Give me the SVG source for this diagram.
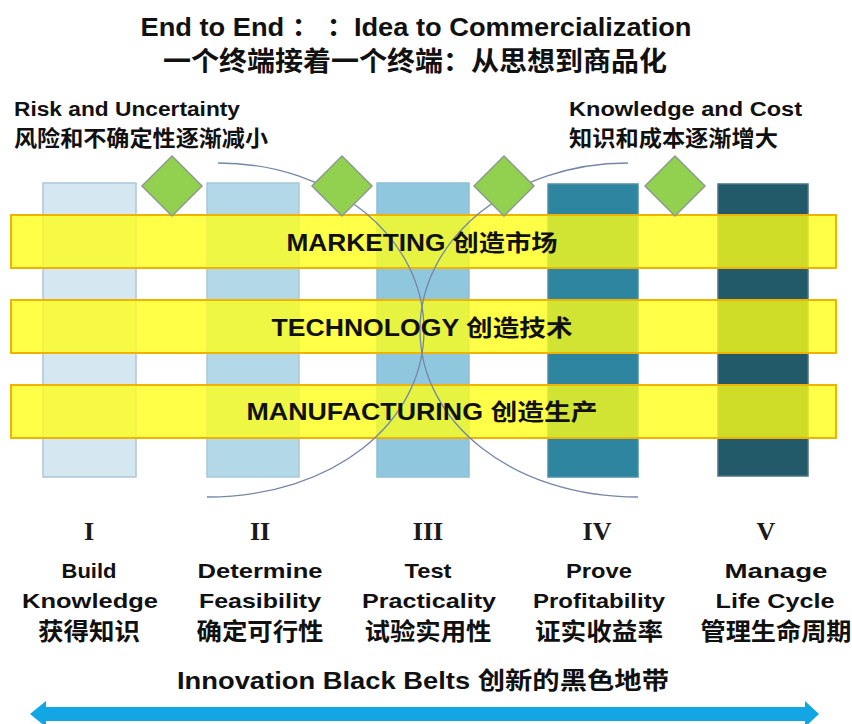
<svg xmlns="http://www.w3.org/2000/svg" width="852" height="724" viewBox="0 0 852 724">
  <style>
    .lat { font-family: "Liberation Sans", "Noto Sans CJK SC", sans-serif; font-weight: bold; fill: #111; }
    .cjk { font-family: "Noto Sans CJK SC", "Liberation Sans", sans-serif; font-weight: bold; fill: #111; }
    .rom { font-family: "Liberation Serif", serif; font-weight: bold; fill: #1a1a1a; font-size: 26px; text-anchor: middle; }
    .mid { text-anchor: middle; }
    .band { fill: #ffff14; fill-opacity: 0.78; stroke: #f0b400; stroke-width: 2; }
    .dia { fill: #92d050; stroke: #8d9b8d; stroke-width: 1.5; }
    .arc { fill: none; stroke: #7587a6; stroke-width: 1.3; }
    .lbl { font-size: 21px; }
    .lblc { font-size: 24px; }
  </style>

  <rect width="852" height="724" fill="#ffffff"/>

  <!-- heading -->
  <g id="title">
    <text class="lat mid" x="416" y="36" font-size="26" textLength="551" lengthAdjust="spacingAndGlyphs">End to End ： ：Idea to Commercialization</text>
    <text class="cjk mid" x="415" y="71" font-size="27" textLength="504" lengthAdjust="spacingAndGlyphs">一个终端接着一个终端：从思想到商品化</text>
  </g>

  <g id="risk-label">
    <text class="lat" x="14" y="116" font-size="20" textLength="226" lengthAdjust="spacingAndGlyphs">Risk and Uncertainty</text>
    <text class="cjk" x="14" y="146" font-size="22" textLength="254" lengthAdjust="spacingAndGlyphs">风险和不确定性逐渐减小</text>
  </g>

  <g id="knowledge-label">
    <text class="lat" x="569" y="116" font-size="20" textLength="233" lengthAdjust="spacingAndGlyphs">Knowledge and Cost</text>
    <text class="cjk" x="569" y="146" font-size="22" textLength="209" lengthAdjust="spacingAndGlyphs">知识和成本逐渐增大</text>
  </g>

  <!-- stage columns -->
  <g id="stage-1">
    <rect x="43" y="183" width="93" height="294" fill="#d5e8f2" stroke="#aec5dc" stroke-width="1.5"/>
  </g>
  <g id="stage-2">
    <rect x="207" y="183" width="92" height="294" fill="#b3d8e8" stroke="#a9c8dc" stroke-width="1.5"/>
  </g>
  <g id="stage-3">
    <rect x="377" y="183" width="92" height="294" fill="#8fc8de" stroke="#8dbfd6" stroke-width="1.5"/>
  </g>
  <g id="stage-4">
    <rect x="548" y="184" width="90" height="293" fill="#2e85a0" stroke="#4d8fa8" stroke-width="1.5"/>
  </g>
  <g id="stage-5">
    <rect x="718" y="184" width="90" height="292" fill="#235a6a" stroke="#4a7484" stroke-width="1.5"/>
  </g>

  <!-- horizontal functions -->
  <g id="marketing">
    <rect class="band" x="11" y="215" width="825" height="53"/>
  </g>
  <g id="technology">
    <rect class="band" x="11" y="300" width="825" height="53"/>
  </g>
  <g id="manufacturing">
    <rect class="band" x="11" y="385" width="825" height="53"/>
  </g>

  <!-- crossing trend curves -->
  <g id="connectors">
    <path class="arc" d="M218,163 C334,163 424,238 424,330 C424,422 334,497 207,497"/>
    <path class="arc" d="M628,163 C512,163 420,238 420,330 C420,422 512,497 638,497"/>
  </g>

  <!-- gates between stages -->
  <g id="gate-1"><polygon class="dia" points="172,156 202,186 172,216 142,186"/></g>
  <g id="gate-2"><polygon class="dia" points="342,156 372,186 342,216 312,186"/></g>
  <g id="gate-3"><polygon class="dia" points="504,156 534,186 504,216 474,186"/></g>
  <g id="gate-4"><polygon class="dia" points="675,156 705,186 675,216 645,186"/></g>

  <!-- band captions -->
  <g id="band-labels">
    <text class="lat mid" x="422" y="251" font-size="23" textLength="271" lengthAdjust="spacingAndGlyphs">MARKETING 创造市场</text>
    <text class="lat mid" x="422" y="336" font-size="23" textLength="301" lengthAdjust="spacingAndGlyphs">TECHNOLOGY 创造技术</text>
    <text class="lat mid" x="422" y="420" font-size="23" textLength="351" lengthAdjust="spacingAndGlyphs">MANUFACTURING 创造生产</text>
  </g>

  <!-- stage captions -->
  <g id="caption-1">
    <text class="rom" x="89" y="540">I</text>
    <text class="lat mid lbl" x="89" y="578" textLength="55" lengthAdjust="spacingAndGlyphs">Build</text>
    <text class="lat mid lbl" x="90" y="608" textLength="136" lengthAdjust="spacingAndGlyphs">Knowledge</text>
    <text class="cjk mid lblc" x="89" y="640" textLength="102" lengthAdjust="spacingAndGlyphs">获得知识</text>
  </g>
  <g id="caption-2">
    <text class="rom" x="260" y="540">II</text>
    <text class="lat mid lbl" x="260" y="578" textLength="125" lengthAdjust="spacingAndGlyphs">Determine</text>
    <text class="lat mid lbl" x="260" y="608" textLength="122" lengthAdjust="spacingAndGlyphs">Feasibility</text>
    <text class="cjk mid lblc" x="260" y="640" textLength="127" lengthAdjust="spacingAndGlyphs">确定可行性</text>
  </g>
  <g id="caption-3">
    <text class="rom" x="428" y="540">III</text>
    <text class="lat mid lbl" x="428" y="578" textLength="47" lengthAdjust="spacingAndGlyphs">Test</text>
    <text class="lat mid lbl" x="429" y="608" textLength="134" lengthAdjust="spacingAndGlyphs">Practicality</text>
    <text class="cjk mid lblc" x="428" y="640" textLength="127" lengthAdjust="spacingAndGlyphs">试验实用性</text>
  </g>
  <g id="caption-4">
    <text class="rom" x="597" y="540">IV</text>
    <text class="lat mid lbl" x="599" y="578" textLength="66" lengthAdjust="spacingAndGlyphs">Prove</text>
    <text class="lat mid lbl" x="599" y="608" textLength="132" lengthAdjust="spacingAndGlyphs">Profitability</text>
    <text class="cjk mid lblc" x="599" y="640" textLength="128" lengthAdjust="spacingAndGlyphs">证实收益率</text>
  </g>
  <g id="caption-5">
    <text class="rom" x="766" y="540">V</text>
    <text class="lat mid lbl" x="776" y="578" textLength="103" lengthAdjust="spacingAndGlyphs">Manage</text>
    <text class="lat mid lbl" x="775" y="608" textLength="119" lengthAdjust="spacingAndGlyphs">Life Cycle</text>
    <text class="cjk mid lblc" x="776" y="640" textLength="151" lengthAdjust="spacingAndGlyphs">管理生命周期</text>
  </g>

  <!-- footer with span arrow -->
  <g id="black-belts">
    <text class="lat mid" x="423" y="689" font-size="24" textLength="492" lengthAdjust="spacingAndGlyphs">Innovation Black Belts 创新的黑色地带</text>
  </g>
  <g id="span-arrow">
    <polygon fill="#12a6e4" points="30,714 46,701 46,707 805,707 805,701 819,714 805,727 805,721 46,721 46,727"/>
  </g>
</svg>
